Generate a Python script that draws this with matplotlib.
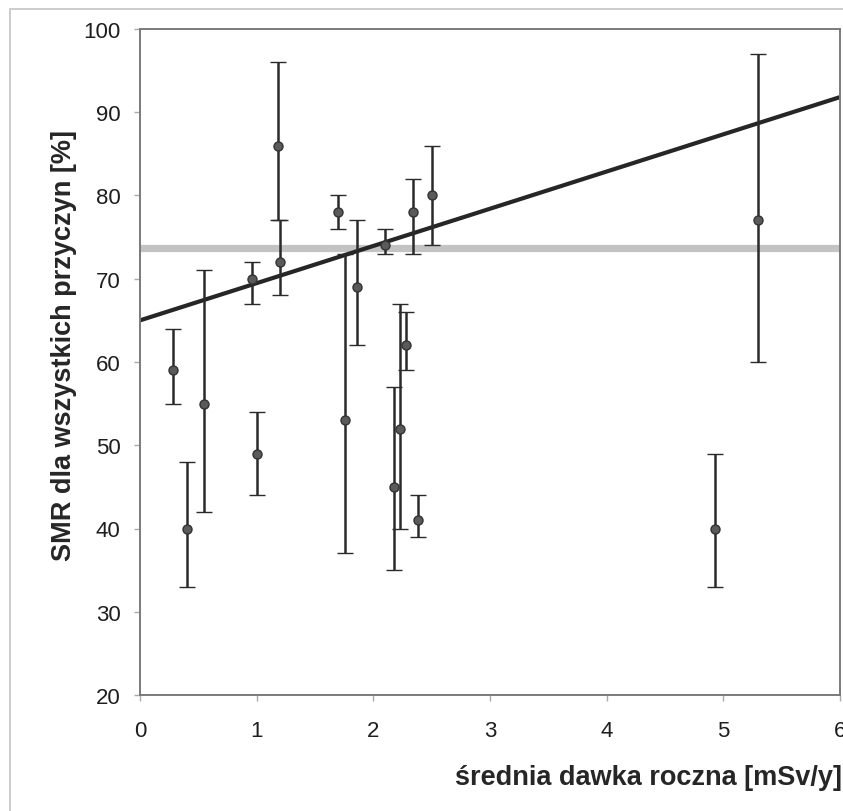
import matplotlib
matplotlib.use("Agg")
import matplotlib.pyplot as plt
from matplotlib.patches import Rectangle
import numpy as np

plt.rcParams['font.family'] = ['Liberation Sans', 'DejaVu Sans']

# mean annual dose [mSv/y]
dose = [0.28, 0.40, 0.55, 0.96, 1.00, 1.18, 1.20, 1.70, 1.76, 1.86, 2.10,
        2.18, 2.23, 2.28, 2.34, 2.38, 2.50, 4.93, 5.30]
# SMR for all causes [%] with lower / upper confidence limits
smr = [59, 40, 55, 70, 49, 86, 72, 78, 53, 69, 74, 45, 52, 62, 78, 41, 80, 40, 77]
smr_low = [55, 33, 42, 67, 44, 77, 68, 76, 37, 62, 73, 35, 40, 59, 73, 39, 74, 33, 60]
smr_high = [64, 48, 71, 72, 54, 96, 77, 80, 73, 77, 76, 57, 67, 66, 82, 44, 86, 49, 97]

# regression line and reference level
trend_intercept = 65.0
trend_slope = 4.47
reference_level = 73.7

x_ticks = [0, 1, 2, 3, 4, 5, 6]
y_ticks = [20, 30, 40, 50, 60, 70, 80, 90, 100]

fig = plt.figure(figsize=(8.43, 8.12), dpi=100)
fig.patches.append(Rectangle((10 / 843, -0.1), 1.2, 1.1 - 10 / 812,
                             transform=fig.transFigure, fill=False,
                             edgecolor='#c4c4c4', linewidth=1.2))

ax = fig.add_axes([140 / 843, 1 - 696 / 812, 700 / 843, 666 / 812])

x = np.array(dose)
y = np.array(smr)
yerr = np.vstack([y - np.array(smr_low), np.array(smr_high) - y])

ax.axhline(reference_level, color='#c3c3c3', linewidth=5.2, zorder=1)

xl = np.array([0, 6])
ax.plot(xl, trend_intercept + trend_slope * xl, color='#262626',
        linewidth=3.0, zorder=2, solid_capstyle='butt')

ax.errorbar(x, y, yerr=yerr, fmt='o', color='#2a2a2a', ecolor='#2a2a2a',
            elinewidth=1.8, capsize=6, capthick=1.8, markersize=6.5,
            markerfacecolor='#5a5a5a', markeredgecolor='#333333',
            markeredgewidth=1.0, zorder=3)

ax.set_xlim(0, 6)
ax.set_ylim(20, 100)
ax.set_xticks(x_ticks)
ax.set_yticks(y_ticks)
ax.tick_params(axis='both', labelsize=16, colors='#aaaaaa', labelcolor='#1e1e1e',
               length=4, width=1, direction='out')
ax.tick_params(axis='x', pad=14)
ax.tick_params(axis='y', pad=10)
for side in ['left', 'bottom', 'top', 'right']:
    ax.spines[side].set_color('#7a7a7a')
    ax.spines[side].set_linewidth(1.4)

ax.set_ylabel('SMR dla wszystkich przyczyn [%]', fontsize=19.5, fontweight='bold',
              color='#262626')
ax.yaxis.set_label_coords(-0.09, 0.527)

fig.text(842 / 843, 1 - 785 / 812, 'średnia dawka roczna [mSv/y]', fontsize=19.5,
         fontweight='bold', color='#262626', ha='right', va='baseline')

fig.savefig('out.png', dpi=100)
